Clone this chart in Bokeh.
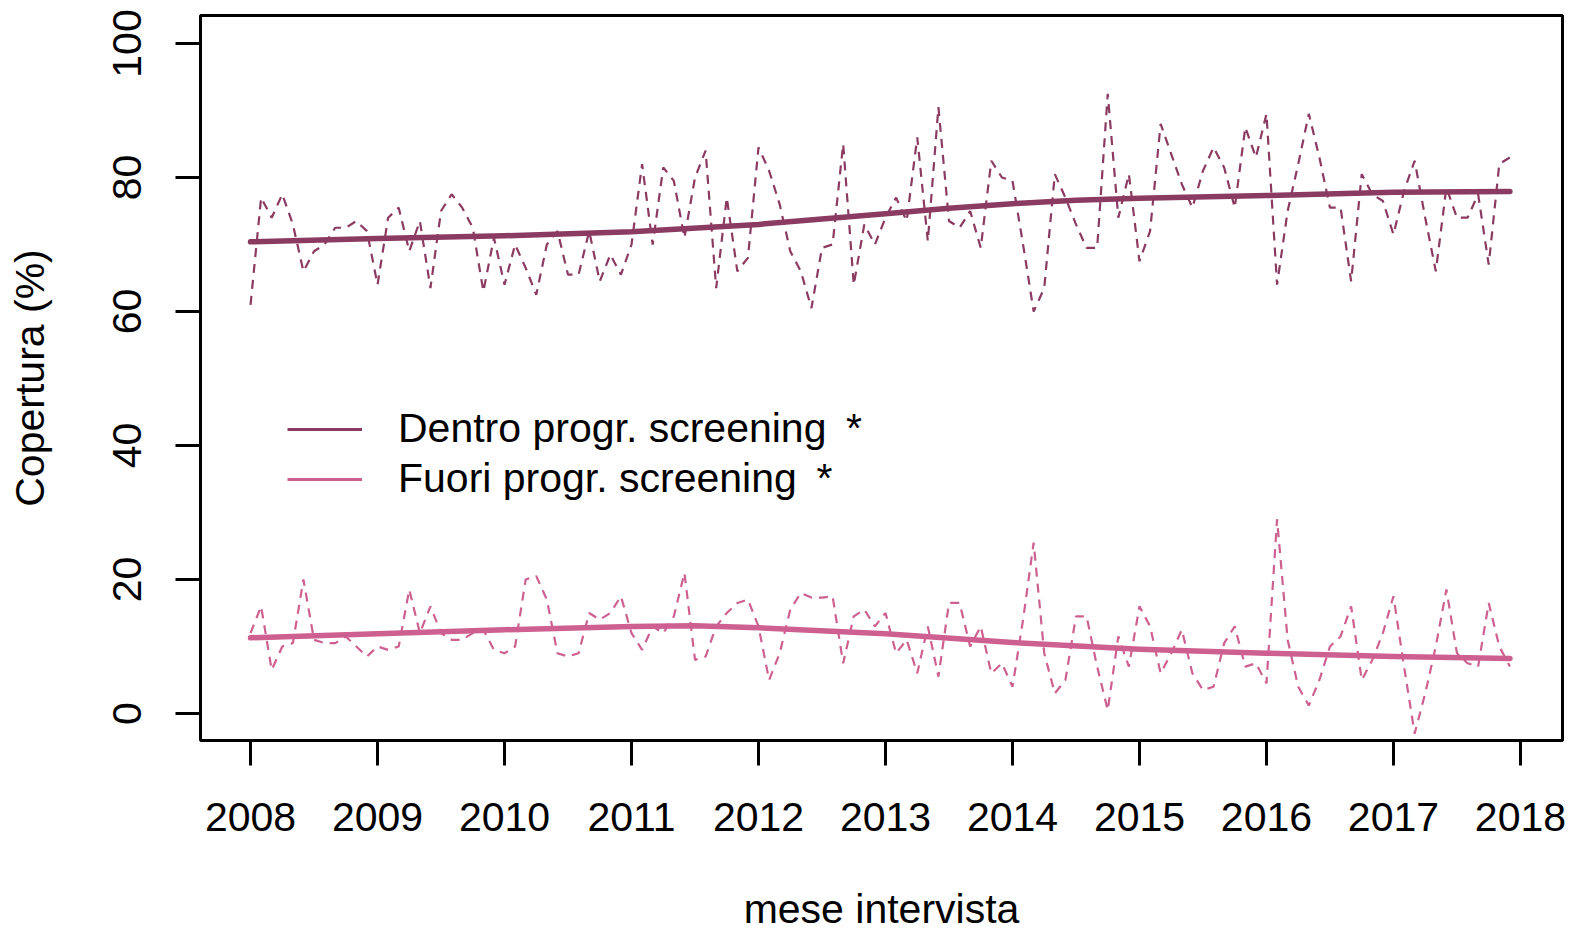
import math
from bokeh.plotting import figure
from bokeh.models import Range1d, FixedTicker, Legend, LegendItem, ColumnDataSource
from bokeh.embed import file_html
from bokeh.resources import INLINE

FONT = "Liberation Sans"
FS = "41px"
DARK = "#8B3A62"   # hotpink4
PINK = "#CD6090"   # hotpink3

# monthly coverage (%), Jan 2008 .. Dec 2017
dentro = [
    61, 77, 74, 77.5, 73, 66, 69, 70, 72.5, 72.5, 73.5, 72,
    64, 74, 75.5, 69, 73.5, 63.5, 75, 77.5, 75.5, 72.5, 63, 71,
    64, 70, 66.5, 62.5, 70, 72, 65.5, 65.5, 72, 64.5, 68.5, 65.5,
    70, 82, 70, 81.5, 79.5, 71, 80, 84, 63.5, 77, 66, 68,
    84.5, 81, 76, 69, 66, 60.5, 69.5, 70, 85, 64, 73, 70,
    74, 77, 73.5, 86, 70.5, 90.5, 73.5, 72.5, 75, 69.5, 82.5, 80,
    79.5, 70, 60, 63.5, 80.5, 77, 73, 69.5, 69.5, 92.5, 74, 80.5,
    67.5, 72, 88, 83.5, 79, 75.5, 81, 84.5, 81.5, 75.5, 87.5, 83,
    89.5, 64, 75, 82, 89.5, 83, 75.5, 75.5, 64.5, 80.5, 77.5, 76.5,
    71.5, 78, 82.5, 74, 66, 78.5, 74, 74, 77.5, 67, 82, 83,
]
fuori = [
    12, 16, 6.5, 10, 10.5, 20, 11, 10.5, 10.5, 11.5, 10, 8.5,
    10, 9.5, 10, 18.5, 12, 16, 12, 11, 11, 12, 12.5, 9.5,
    9, 10, 20, 20.5, 17, 9, 8.5, 9, 15, 14, 15, 17.5,
    12, 9.5, 13, 12, 14.5, 21, 8, 8.5, 13, 15, 16.5, 17,
    13, 5, 9, 15.5, 18, 17.3, 17.3, 17.5, 7.5, 14.5, 15.5, 13,
    15, 9, 11, 6, 13, 5.5, 16.5, 16.5, 10, 13, 6, 7.5,
    4, 14, 25.5, 9, 3, 5, 14.5, 14.5, 7, 0.5, 11.5, 7,
    16, 13, 6, 9, 12.5, 6, 3.5, 4, 10.5, 13, 7, 7.5,
    4.5, 29, 11, 4, 1.2, 5, 10, 11.5, 16, 5, 8, 12,
    17.5, 7, -3, 3, 10, 18.5, 9, 7.5, 7, 16.5, 10, 7,
]
months = [2008 + i / 12 for i in range(len(dentro))]

# smoothed trends
dentro_trend_x = [2008, 2009, 2010, 2011, 2012, 2012.5, 2013, 2013.5, 2014, 2014.5, 2015, 2016, 2017, 2017.917]
dentro_trend = [70.4, 70.9, 71.3, 71.9, 73.0, 73.8, 74.6, 75.4, 76.1, 76.6, 76.9, 77.3, 77.8, 77.9]
fuori_trend_x = [2008, 2009, 2010, 2011, 2011.5, 2012, 2013, 2014, 2015, 2016, 2017, 2017.917]
fuori_trend = [11.3, 11.9, 12.5, 13.0, 13.1, 12.8, 11.9, 10.6, 9.6, 9.0, 8.5, 8.2]

x_ticks = list(range(2008, 2019))
y_ticks = [0, 20, 40, 60, 80, 100]
legend_labels = ["Dentro progr. screening\u00a0\u2009*", "Fuori progr. screening\u00a0\u2009*"]
x_title = "mese intervista"
y_title = "Copertura (%)"

p = figure(width=1574, height=934, output_backend="svg", toolbar_location=None,
           x_range=Range1d(2007.606, 2018.331), y_range=Range1d(-4.03, 104.18),
           min_border_left=200, min_border_right=12, min_border_top=15, min_border_bottom=194)
p.grid.visible = False
p.outline_line_color = "black"
p.outline_line_width = 3
p.background_fill_color = "white"
p.border_fill_color = "white"

for ax, ticks in ((p.xaxis[0], x_ticks), (p.yaxis[0], y_ticks)):
    ax.ticker = FixedTicker(ticks=ticks)
    ax.axis_line_color = None
    ax.major_tick_line_width = 3
    ax.major_tick_line_color = "black"
    ax.major_tick_out = 25
    ax.major_tick_in = 0
    ax.minor_tick_line_color = None
    ax.major_label_text_font = FONT
    ax.major_label_text_font_size = FS
    ax.major_label_text_color = "black"
    ax.axis_label_text_font = FONT
    ax.axis_label_text_font_size = FS
    ax.axis_label_text_font_style = "normal"
    ax.axis_label_text_color = "black"
p.xaxis[0].major_label_standoff = 37
p.yaxis[0].major_label_standoff = 34
p.yaxis[0].major_label_orientation = "vertical"
p.xaxis[0].axis_label = x_title
p.yaxis[0].axis_label = y_title
p.xaxis[0].axis_label_standoff = 52
p.yaxis[0].axis_label_standoff = 58

# dashed monthly series
p.line(months, dentro, line_color=DARK, line_width=2.2, line_dash="9 7")
p.line(months, fuori, line_color=PINK, line_width=2.2, line_dash="9 7")
# trends
p.line(dentro_trend_x, dentro_trend, line_color=DARK, line_width=5.5, line_cap="round", line_join="round")
p.line(fuori_trend_x, fuori_trend, line_color=PINK, line_width=5.5, line_cap="round", line_join="round")

# legend proxies (thinner lines, nothing drawn in the plot)
nan = float("nan")
r1 = p.line("x", "y", source=ColumnDataSource(data=dict(x=[nan], y=[nan])), line_color=DARK, line_width=3)
r2 = p.line("x", "y", source=ColumnDataSource(data=dict(x=[nan], y=[nan])), line_color=PINK, line_width=3)
legend = Legend(items=[LegendItem(label=legend_labels[0], renderers=[r1]),
                       LegendItem(label=legend_labels[1], renderers=[r2])],
                location=(87, 238), glyph_width=75, label_standoff=36, spacing=3,
                padding=0, margin=0, border_line_color=None, background_fill_alpha=0,
                label_text_font=FONT, label_text_font_size=FS, label_text_color="black")
p.add_layout(legend, "center")

open("out.html", "w").write(file_html(p, INLINE))
